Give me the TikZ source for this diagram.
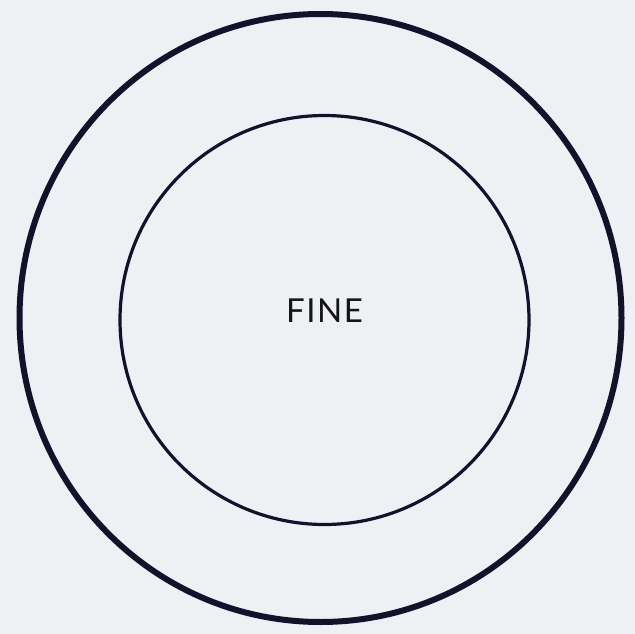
\documentclass[tikz,border=0pt]{standalone}
\usepackage{fontspec}
\setmainfont{Lato}
\usetikzlibrary{shapes.geometric}
\definecolor{bg}{HTML}{EEF0F3}
\definecolor{ink}{HTML}{12122A}
\definecolor{txt}{HTML}{151518}
\begin{document}
\begin{tikzpicture}[x=1pt,y=-1pt,
  ring/.style={draw=ink},
  lbl/.style={font=\fontsize{33}{33}\selectfont, text=txt, inner sep=0pt}]
\fill[bg] (0,0) rectangle (635,634);
\useasboundingbox (0,0) rectangle (635,634);
\node[ring, line width=6pt, ellipse, minimum width=602pt, minimum height=608pt, inner sep=0pt] (outer) at (320.5,318) {};
\node[ring, line width=3.2pt, circle, minimum size=409pt, inner sep=0pt] (inner) at (324.5,320) {};
\node[lbl, anchor=base] (fine) at (324.5,322) {F\kern1.5ptI\kern1.5ptN\kern1.5ptE};
\end{tikzpicture}
\end{document}
